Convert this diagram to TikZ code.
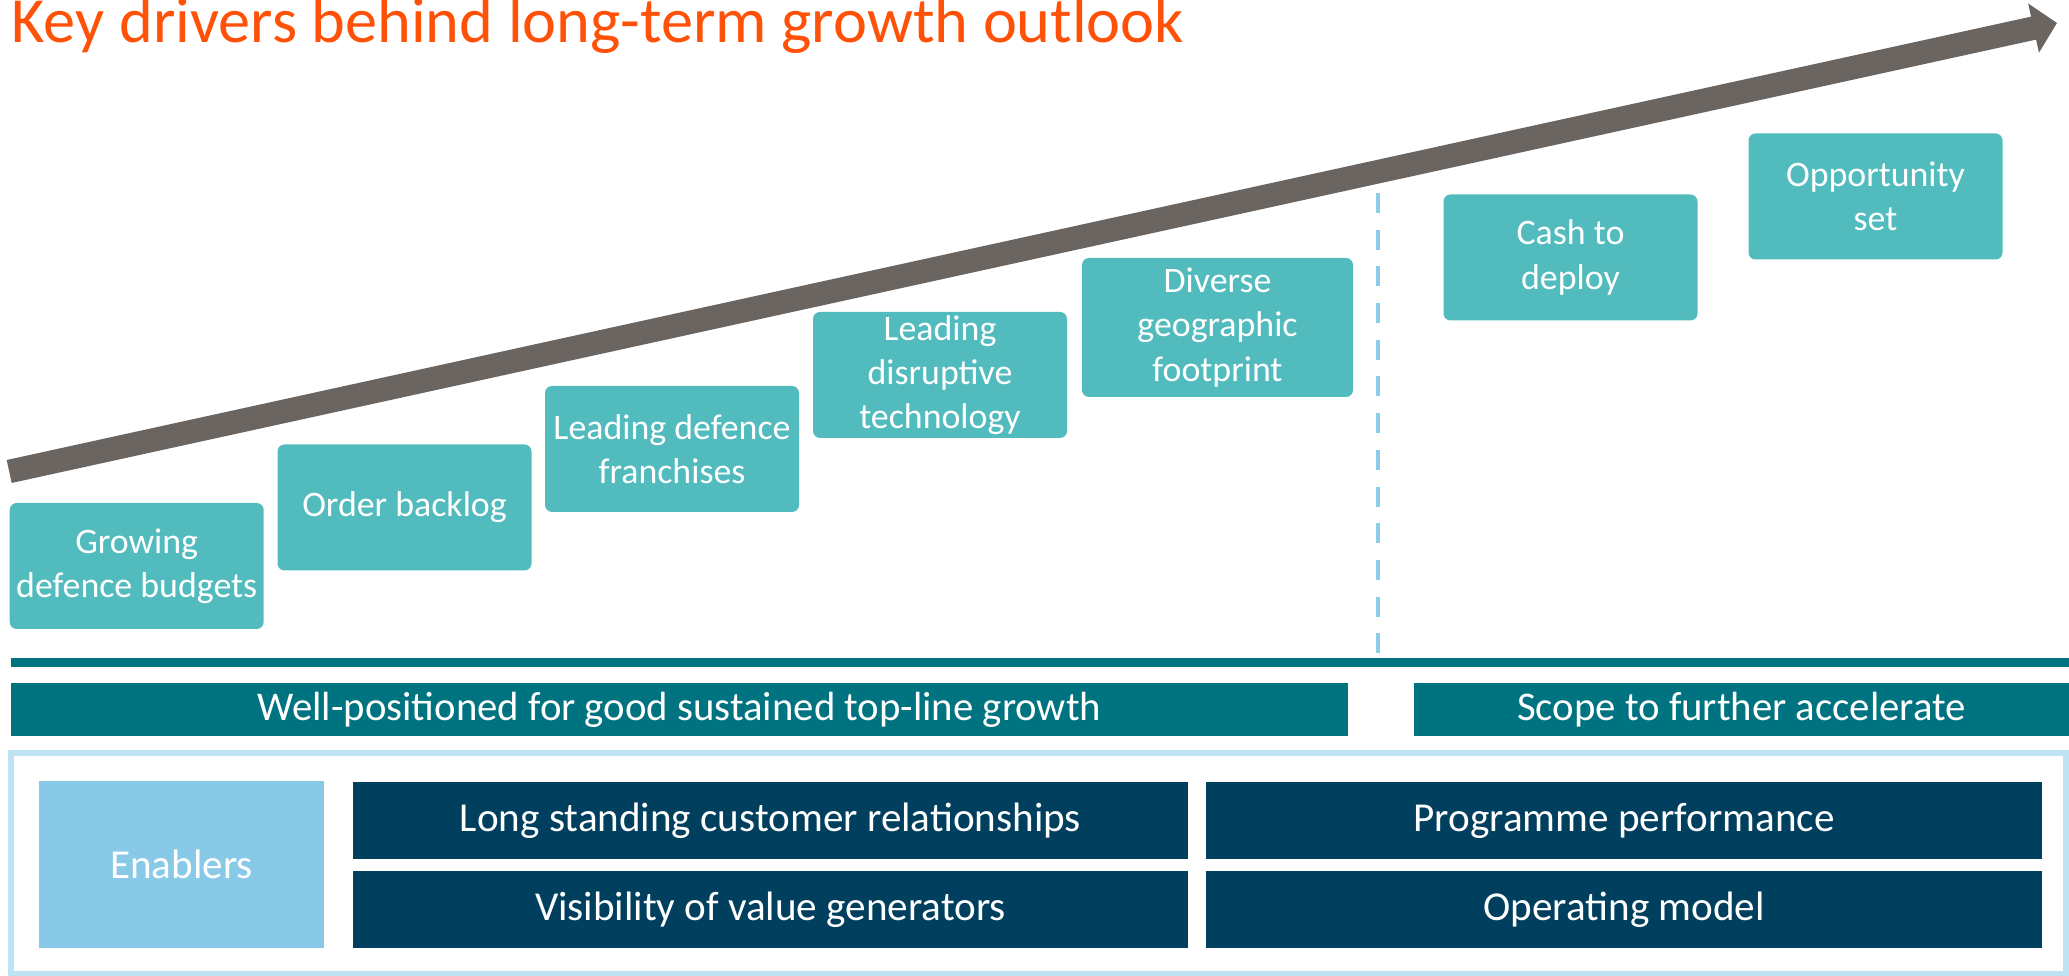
\documentclass[tikz,border=0pt]{standalone}
\usepackage{fontspec}
\setmainfont{Carlito}
\usetikzlibrary{arrows.meta}
\definecolor{titleorange}{HTML}{FF5208}
\definecolor{arrowgrey}{HTML}{6B6561}
\definecolor{driverteal}{HTML}{52BBBE}
\definecolor{barteal}{HTML}{007380}
\definecolor{enablerblue}{HTML}{88C9E8}
\definecolor{frameblue}{HTML}{BEE3F2}
\definecolor{enablernavy}{HTML}{003F5E}
\definecolor{dashblue}{HTML}{8CCBEA}

\begin{document}
\begin{tikzpicture}[
    driver/.style={fill=driverteal, rounded corners=0.07cm, text=white, align=center,
      minimum width=2.54cm, minimum height=1.26cm, inner sep=0pt,
      font=\fontsize{10.2pt}{12.6pt}\selectfont},
    bar/.style={fill=barteal, text=white, minimum height=0.53cm, inner sep=0pt,
      font=\fontsize{11.6pt}{14pt}\selectfont},
    enabler/.style={fill=enablernavy, text=white, minimum width=8.35cm,
      minimum height=0.77cm, inner sep=0pt, font=\fontsize{11.7pt}{14pt}\selectfont}]
    \useasboundingbox (0,0) rectangle (20.69,9.76);
    % heading
    \node[anchor=base west, inner sep=0pt, text=titleorange,
      font=\fontsize{18.3pt}{21pt}\selectfont] (title) at (0.11,9.33)
      {Key drivers behind long-term growth outlook};
    % growth arrow
    \coordinate (tail) at (0.092,5.045);
    \coordinate (tip) at (20.57,9.53);
    \draw[arrowgrey, line width=0.235cm, -{Triangle[length=0.24cm, width=0.49cm]}] (tail) -- (tip);
    % drivers
    \node[driver] (budgets) at (1.367,4.10) {Growing\\defence budgets};
    \node[driver] (backlog) at (4.045,4.685) {Order backlog};
    \node[driver] (franchises) at (6.72,5.27) {Leading defence\\franchises};
    \node[driver] (technology) at (9.40,6.01) {Leading\\disruptive\\technology};
    \node[driver, minimum width=2.71cm, minimum height=1.39cm] (footprint) at (12.175,6.485)
      {Diverse\\geographic\\footprint};
    \node[driver] (cash) at (15.705,7.185) {Cash to\\deploy};
    \node[driver] (opportunity) at (18.755,7.795) {Opportunity\\set};
    % divider
    \coordinate (divtop) at (13.78,7.83);
    \coordinate (divbottom) at (13.78,3.19);
    \draw[dashblue, line width=0.045cm, dash pattern=on 0.2cm off 0.167cm] (divtop) -- (divbottom);
    \draw[barteal, line width=0.09cm] (0.11,3.135) -- (20.69,3.135);
    \node[bar, minimum width=13.37cm] (sustained) at (6.795,2.665)
      {Well-positioned for good sustained top-line growth};
    \node[bar, minimum width=6.55cm] (accelerate) at (17.415,2.665)
      {Scope to further accelerate};
    % enablers
    \draw[frameblue, line width=0.055cm] (0.11,0.02) rectangle (20.66,2.23);
    \node[fill=enablerblue, text=white, minimum width=2.85cm, minimum height=1.67cm,
      inner sep=0pt, font=\fontsize{11.7pt}{14pt}\selectfont] (enablers) at (1.815,1.115) {Enablers};
    \node[enabler] (customers) at (7.705,1.555) {Long standing customer relationships};
    \node[enabler] (visibility) at (7.705,0.665) {Visibility of value generators};
    \node[enabler, minimum width=8.36cm] (programme) at (16.24,1.555) {Programme performance};
    \node[enabler, minimum width=8.36cm] (operating) at (16.24,0.665) {Operating model};
\end{tikzpicture}
\end{document}
